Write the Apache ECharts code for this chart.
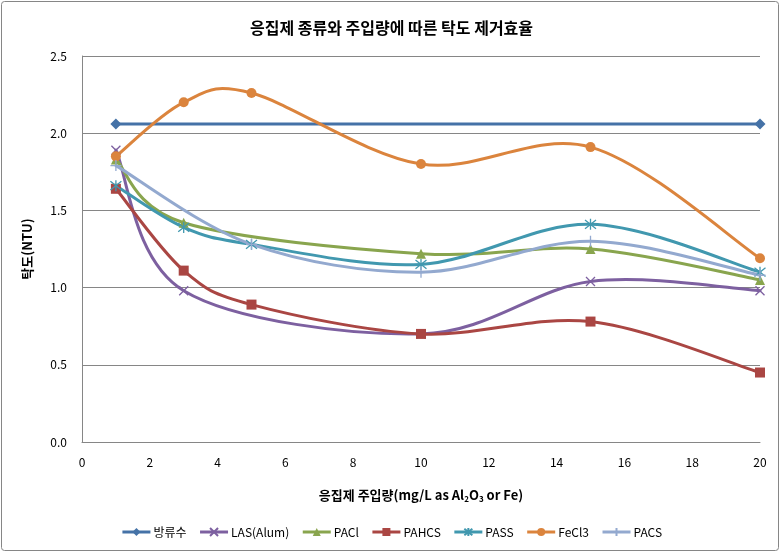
<!DOCTYPE html>
<html>
<head>
<meta charset="utf-8">
<script src="https://cdn.jsdelivr.net/npm/echarts@6/dist/echarts.min.js"></script>
<style>
html,body{margin:0;padding:0;background:#fff;}
#c{width:783px;height:554px;}
</style>
</head>
<body>
<div id="c"></div>
<script>
// ---- data ----
const titleText = '응집제 종류와 주입량에 따른 탁도 제거효율';
const yAxisName = '탁도(NTU)';
const seriesNames = ['방류수', 'LAS(Alum)', 'PACl', 'PAHCS', 'PASS', 'FeCl3', 'PACS'];
const effluentX = [1, 20];
const effluentY = [2.06, 2.06];
const lasX = [1, 3, 10, 15, 20];
const lasY = [1.89, 0.98, 0.70, 1.04, 0.98];
const paclX = [1, 3, 10, 15, 20];
const paclY = [1.83, 1.42, 1.22, 1.25, 1.05];
const pahcsX = [1, 3, 5, 10, 15, 20];
const pahcsY = [1.64, 1.11, 0.89, 0.70, 0.78, 0.45];
const passX = [1, 3, 5, 10, 15, 20];
const passY = [1.66, 1.39, 1.28, 1.15, 1.41, 1.10];
const fecl3X = [1, 3, 5, 10, 15, 20];
const fecl3Y = [1.85, 2.20, 2.26, 1.80, 1.91, 1.19];
const pacsX = [1, 5, 10, 15, 20];
const pacsY = [1.79, 1.28, 1.10, 1.30, 1.08];

const allX = [effluentX, lasX, paclX, pahcsX, passX, fecl3X, pacsX];
const allY = [effluentY, lasY, paclY, pahcsY, passY, fecl3Y, pacsY];
const pair = (xs, ys) => xs.map((x, i) => [x, ys[i]]);

const FONT = '"Noto Sans CJK KR", "Noto Sans", sans-serif';
const colors = ['#4572A7', '#7D60A0', '#89A54E', '#AA4643', '#4198AF', '#DB843D', '#93A9CF'];
const symX = 'path://M0,0L10,10M10,0L0,10';
const symStar = 'path://M1,1L9,9M9,1L1,9M5,0L5,10';
const symPlus = 'path://M5,0L5,10M0,5L10,5';
const symbols = [['diamond', 11, false], [symX, 9, true], ['triangle', 10, false], ['rect', 10, false], [symStar, 11, true], ['circle', 10, false], [symPlus, 11, true]];

// smoothed curve (Catmull-Rom style Bezier in pixel space, like the spreadsheet's smoothed lines)
function curveSeries(i) {
  return {
    name: seriesNames[i] + ' curve',
    type: 'custom',
    data: [[allX[i][0], allY[i][0]]],
    z: 2 + i * 0.1,
    silent: true,
    renderItem: function (params, api) {
      const P = allX[i].map((x, k) => api.coord([x, allY[i][k]]));
      const t = 1 / 6;
      let d = 'M' + P[0][0] + ',' + P[0][1];
      for (let k = 0; k < P.length - 1; k++) {
        const p0 = P[k - 1] || P[k];
        const p1 = P[k];
        const p2 = P[k + 1];
        const p3 = P[k + 2] || P[k + 1];
        const c1x = p1[0] + (p2[0] - p0[0]) * t, c1y = p1[1] + (p2[1] - p0[1]) * t;
        const c2x = p2[0] - (p3[0] - p1[0]) * t, c2y = p2[1] - (p3[1] - p1[1]) * t;
        d += 'C' + c1x + ',' + c1y + ',' + c2x + ',' + c2y + ',' + p2[0] + ',' + p2[1];
      }
      return {
        type: 'path',
        shape: { pathData: d },
        style: { fill: 'none', stroke: colors[i], lineWidth: 3, lineJoin: 'round', lineCap: 'round' }
      };
    }
  };
}

function markerSeries(i) {
  const s = symbols[i];
  return {
    name: seriesNames[i],
    type: 'line',
    data: pair(allX[i], allY[i]),
    symbol: s[0],
    symbolSize: s[1],
    showAllSymbol: true,
    color: colors[i],
    lineStyle: { width: 3, color: colors[i], opacity: 0 },
    itemStyle: s[2] ? { color: colors[i], borderColor: colors[i], borderWidth: 1.3 } : { color: colors[i], borderWidth: 0 },
    z: 3 + i * 0.1
  };
}

const series = [];
for (let i = 0; i < seriesNames.length; i++) {
  series.push(curveSeries(i));
  series.push(markerSeries(i));
}

const chart = echarts.init(document.getElementById('c'), null, { renderer: 'canvas' });
chart.setOption({
  animation: false,
  backgroundColor: '#fff',
  textStyle: { fontFamily: FONT },
  title: {
    text: titleText,
    left: 'center',
    top: 15,
    textStyle: { fontFamily: FONT, fontSize: 16, fontWeight: 'bold', color: '#000' }
  },
  graphic: [{
    type: 'rect',
    shape: { x: 1.5, y: 1.5, width: 777, height: 549, r: 3 },
    style: { fill: 'none', stroke: '#868686', lineWidth: 1 },
    silent: true
  }],
  legend: {
    bottom: 11,
    left: 'center',
    itemWidth: 28,
    itemHeight: 10,
    itemGap: 12,
    lineStyle: { width: 3, opacity: 1 },
    textStyle: { fontFamily: FONT, fontSize: 12, color: '#000', padding: [0, 0, 0, -2] },
    data: seriesNames
  },
  grid: { left: 82, right: 23, top: 56, bottom: 112, containLabel: false },
  xAxis: {
    type: 'value',
    min: 0, max: 20, interval: 2,
    name: '응집제 주입량(mg/L as Al{sub|2}O{sub|3} or Fe)',
    nameLocation: 'middle',
    nameGap: 46,
    nameTextStyle: {
      fontFamily: FONT, fontSize: 13, fontWeight: 'bold', color: '#000',
      rich: { sub: { fontFamily: FONT, fontSize: 8, fontWeight: 'bold', color: '#000', padding: [7, 0, 0, 0] } }
    },
    axisLine: { show: true, lineStyle: { color: '#868686', width: 1 } },
    axisTick: { show: false },
    axisLabel: { fontFamily: FONT, fontSize: 12, color: '#000', margin: 14 },
    splitLine: { show: false }
  },
  yAxis: {
    type: 'value',
    min: 0, max: 2.5, interval: 0.5,
    name: yAxisName,
    nameLocation: 'middle',
    nameGap: 48,
    nameRotate: 90,
    nameTextStyle: { fontFamily: FONT, fontSize: 13, fontWeight: 'bold', color: '#000' },
    axisLine: { show: true, lineStyle: { color: '#868686', width: 1 } },
    axisTick: { show: false },
    axisLabel: { fontFamily: FONT, fontSize: 12, color: '#000', margin: 15, formatter: v => v.toFixed(1) },
    splitLine: { show: true, lineStyle: { color: '#868686', width: 1 } }
  },
  series: series
});
</script>
</body>
</html>
